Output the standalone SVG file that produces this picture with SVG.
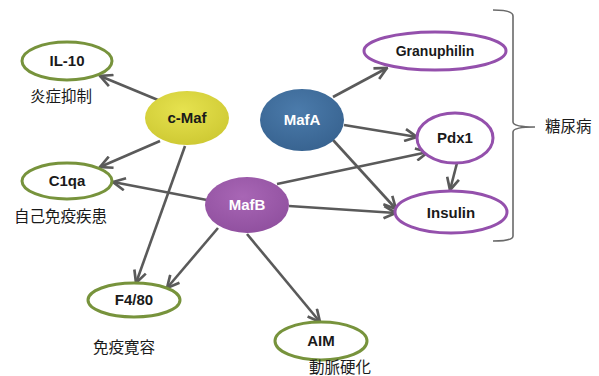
<svg xmlns="http://www.w3.org/2000/svg" width="599" height="376" viewBox="0 0 599 376">
<defs>
<marker id="ah" viewBox="0 0 12 12" refX="11" refY="6" markerWidth="5.6" markerHeight="5.6" markerUnits="strokeWidth" orient="auto">
<path d="M1,1 L11,6 L1,11" fill="none" stroke="#5a5a5a" stroke-width="2.2" stroke-linejoin="miter"/>
</marker>
<radialGradient id="gy" cx="0.45" cy="0.35" r="0.7"><stop offset="0" stop-color="#e6e24f"/><stop offset="1" stop-color="#cdc832"/></radialGradient>
<radialGradient id="gb" cx="0.45" cy="0.35" r="0.7"><stop offset="0" stop-color="#4b7bab"/><stop offset="1" stop-color="#37628f"/></radialGradient>
<radialGradient id="gp" cx="0.45" cy="0.35" r="0.7"><stop offset="0" stop-color="#a866b5"/><stop offset="1" stop-color="#8f4f9e"/></radialGradient>
</defs>
<style>
.g{fill:#fff;stroke:#77933c;stroke-width:3}
.p{fill:#fff;stroke:#9450ac;stroke-width:3}
.t{font-family:"Liberation Sans",Arial,sans-serif;font-weight:bold;font-size:15px;fill:#1a1a1a;text-anchor:middle}
.w{fill:#fff}
.cj{font-family:"Noto Sans CJK JP","Noto Sans CJK SC",sans-serif;font-size:15.5px;fill:#1a1a1a}
.e{stroke:#5a5a5a;stroke-width:2.6;fill:none;marker-end:url(#ah)}
</style>
<rect width="599" height="376" fill="#fff"/>
<g id="connectors">
<line class="e" x1="158" y1="100" x2="100" y2="76"/>
<line class="e" x1="160" y1="141" x2="100" y2="167"/>
<line class="e" x1="185" y1="146" x2="136" y2="283"/>
<line class="e" x1="207" y1="200" x2="113" y2="182"/>
<line class="e" x1="218" y1="228" x2="167" y2="288"/>
<line class="e" x1="247" y1="234" x2="320" y2="322"/>
<line class="e" x1="277" y1="184" x2="428" y2="152"/>
<line class="e" x1="289" y1="206" x2="396" y2="213"/>
<line class="e" x1="333" y1="97" x2="387" y2="68"/>
<line class="e" x1="344" y1="125" x2="417" y2="137"/>
<line class="e" x1="333" y1="140" x2="396" y2="209"/>
<line class="e" x1="457" y1="163" x2="450" y2="190"/>
</g>
<g id="IL-10"><ellipse class="g" cx="67" cy="61" rx="45" ry="19"/><text class="t" x="67" y="66">IL-10</text></g>
<g id="C1qa"><ellipse class="g" cx="67" cy="181" rx="45" ry="18"/><text class="t" x="67" y="186">C1qa</text></g>
<g id="F4-80"><ellipse class="g" cx="134" cy="300" rx="46" ry="17"/><text class="t" x="134" y="305">F4/80</text></g>
<g id="AIM"><ellipse class="g" cx="321" cy="341" rx="46" ry="19"/><text class="t" x="321" y="346">AIM</text></g>
<g id="Granuphilin"><ellipse class="p" cx="435" cy="51" rx="71" ry="19"/><text class="t" x="435" y="56" style="font-size:14px">Granuphilin</text></g>
<g id="Pdx1"><ellipse class="p" cx="455" cy="138" rx="38" ry="25"/><text class="t" x="455" y="143">Pdx1</text></g>
<g id="Insulin"><ellipse class="p" cx="451" cy="212" rx="56" ry="21"/><text class="t" x="451" y="218">Insulin</text></g>
<g id="c-Maf"><ellipse cx="187" cy="118" rx="42" ry="27" fill="url(#gy)"/><text class="t" x="187" y="123">c-Maf</text></g>
<g id="MafA"><ellipse cx="302" cy="120" rx="42" ry="31" fill="url(#gb)"/><text class="t w" x="302" y="125">MafA</text></g>
<g id="MafB"><ellipse cx="247" cy="205" rx="42" ry="28" fill="url(#gp)"/><text class="t w" x="247" y="210">MafB</text></g>
<g id="labels">
<text class="cj" x="30" y="102">炎症抑制</text>
<text class="cj" x="14" y="222">自己免疫疾患</text>
<text class="cj" x="93" y="353">免疫寛容</text>
<text class="cj" x="309" y="373">動脈硬化</text>
<text class="cj" x="545" y="132">糖尿病</text>
</g>
<g id="bracket"><path d="M493,10 Q513,10 513,16 L513,122 Q513,127 535,127 Q513,127 513,132 L513,236 Q513,241 493,241" fill="none" stroke="#6a6a6a" stroke-width="1.6"/></g>
</svg>
